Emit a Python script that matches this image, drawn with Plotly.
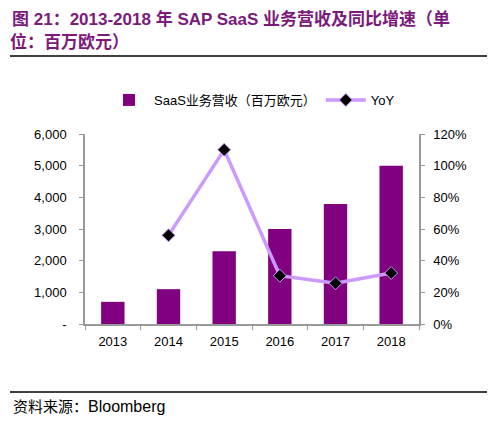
import plotly.graph_objects as go

years = ["2013", "2014", "2015", "2016", "2017", "2018"]
revenue = [700, 1100, 2300, 3000, 3790, 5000]
yoy = [None, 0.56, 1.10, 0.305, 0.257, 0.322]

left_ticks = [0, 1000, 2000, 3000, 4000, 5000, 6000]
left_text = ["-", "1,000", "2,000", "3,000", "4,000", "5,000", "6,000"]
right_ticks = [0, 0.2, 0.4, 0.6, 0.8, 1.0, 1.2]

# page body has an 8px margin, so the figure is drawn a bit smaller
OFF = 8
W, H = 502 - OFF, 423 - OFF
ml, mr, mt = 85 - OFF, 83, 134 - OFF
ph = 190
mb = H - mt - ph
pw = W - ml - mr


def px(x):
    return (x - OFF - ml) / pw


def py(y):
    return (mt + ph - (y - OFF)) / ph


fig = go.Figure()

fig.add_trace(go.Bar(
    x=years, y=revenue,
    name="SaaS业务营收（百万欧元）",
    marker=dict(color="#800080", line=dict(width=0)),
    width=0.42,
))

fig.add_trace(go.Scatter(
    x=years, y=yoy,
    name="YoY",
    mode="lines+markers",
    yaxis="y2",
    line=dict(color="#CC99FF", width=3.5),
    marker=dict(symbol="diamond", size=10, color="black",
                line=dict(color="#CC99FF", width=1)),
))

axis_font = dict(family="Liberation Sans, Arial", size=13, color="#000000")

fig.update_layout(
    width=W, height=H,
    margin=dict(l=ml, r=mr, t=mt, b=mb),
    paper_bgcolor="white",
    plot_bgcolor="white",
    font=dict(family="Liberation Sans, Noto Sans CJK SC", size=13, color="#000"),
    showlegend=True,
    legend=dict(
        orientation="h", x=0.5, xanchor="center", y=py(100), yanchor="middle",
        font=dict(family="Liberation Sans, Noto Sans CJK SC", size=13),
        itemwidth=40, traceorder="normal",
    ),
    xaxis=dict(
        type="category",
        showline=True, linecolor="#999999", linewidth=1.5,
        ticks="outside", tickson="boundaries", ticklen=4, tickcolor="#999999",
        tickfont=axis_font, showgrid=False, ticklabelstandoff=5,
    ),
    yaxis=dict(
        range=[0, 6000], tickvals=left_ticks, ticktext=left_text,
        showline=True, linecolor="#999999", linewidth=1.5,
        ticks="outside", ticklen=4, tickcolor="#999999",
        tickfont=axis_font, showgrid=False, zeroline=False,
        ticklabelstandoff=10,
    ),
    yaxis2=dict(
        range=[0, 1.2], tickvals=right_ticks, tickformat=".0%",
        overlaying="y", side="right",
        showline=True, linecolor="#999999", linewidth=1.5,
        ticks="outside", ticklen=4, tickcolor="#999999",
        tickfont=axis_font, showgrid=False, zeroline=False,
        ticklabelstandoff=6,
    ),
)

title_font = dict(family="Liberation Sans, Noto Sans CJK SC", size=17, color="#7B1A7B")
fig.add_annotation(
    text="<b>图 21：2013-2018 年 SAP SaaS 业务营收及同比增速（单</b>",
    xref="paper", yref="paper", x=px(10), y=py(19),
    xanchor="left", yanchor="middle", showarrow=False, font=title_font,
)
fig.add_annotation(
    text="<b>位：百万欧元）</b>",
    xref="paper", yref="paper", x=px(8), y=py(42),
    xanchor="left", yanchor="middle", showarrow=False, font=title_font,
)
fig.add_annotation(
    text="资料来源：<span style='font-size:16px'>Bloomberg</span>",
    xref="paper", yref="paper", x=px(11), y=py(406),
    xanchor="left", yanchor="middle", showarrow=False,
    font=dict(family="Liberation Sans, Noto Sans CJK SC", size=15, color="#000"),
)

for yy in (56, 392):
    fig.add_shape(
        type="line", xref="paper", yref="paper",
        x0=px(10), x1=px(487), y0=py(yy), y1=py(yy),
        line=dict(color="black", width=1.5),
    )

fig.write_html("out.html")
